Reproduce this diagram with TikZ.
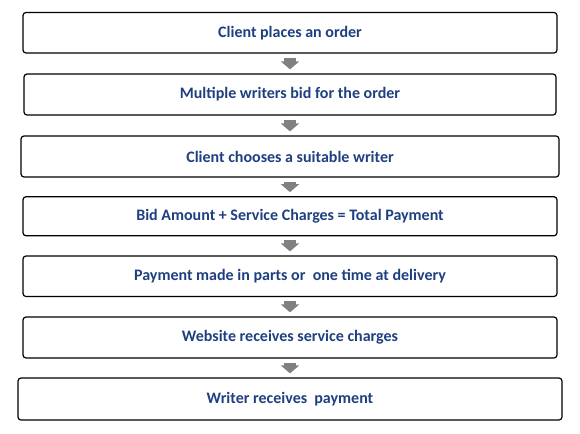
\documentclass[tikz,border=0pt]{standalone}
\usepackage{fontspec}
\setmainfont{Carlito}
\usetikzlibrary{arrows.meta}
\definecolor{txtblue}{RGB}{31,64,128}
\definecolor{arrgray}{RGB}{128,128,128}
\tikzset{
  stepbox/.style={draw=black, line width=1.2pt, rounded corners=3pt, fill=white,
    inner sep=0pt, text=txtblue, font=\fontsize{16pt}{19pt}\selectfont\bfseries},
  flowarr/.style={draw=arrgray, line width=12pt, shorten <=4pt, shorten >=4pt,
    -{Triangle[width=18pt,length=8pt]}}
}
\begin{document}
\begin{tikzpicture}[x=1pt,y=-1pt]
\useasboundingbox (0,0) rectangle (580,433);
\node[stepbox, minimum width=534pt, minimum height=40.5pt] (s1) at (290,32.75) {Client places an order};
\node[stepbox, minimum width=532pt, minimum height=41pt] (s2) at (290,94.5) {Multiple writers bid for the order};
\node[stepbox, minimum width=538pt, minimum height=41pt] (s3) at (290,156.5) {Client chooses a suitable writer};
\node[stepbox, minimum width=534pt, minimum height=39pt] (s4) at (290,216.25) {Bid Amount + Service Charges = Total Payment};
\node[stepbox, minimum width=534pt, minimum height=40.5pt] (s5) at (290,276.25) {Payment made in parts or\ \ one time at delivery};
\node[stepbox, minimum width=534pt, minimum height=41pt] (s6) at (290,337.5) {Website receives service charges};
\node[stepbox, minimum width=544pt, minimum height=42pt] (s7) at (290,399) {Writer receives\ \ payment};
\draw[flowarr] (s1.south) -- (s2.north);
\draw[flowarr] (s2.south) -- (s3.north);
\draw[flowarr] (s3.south) -- (s4.north);
\draw[flowarr] (s4.south) -- (s5.north);
\draw[flowarr] (s5.south) -- (s6.north);
\draw[flowarr] (s6.south) -- (s7.north);
\end{tikzpicture}
\end{document}
